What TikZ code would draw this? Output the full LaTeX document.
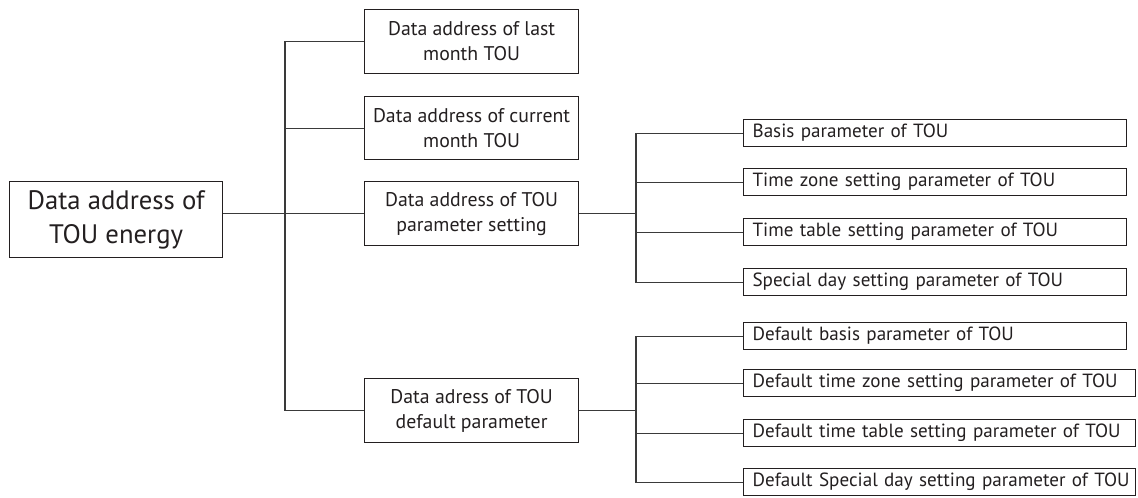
\documentclass[tikz,border=0pt]{standalone}
\usepackage{fontspec}
\setmainfont{PT Sans}
\definecolor{ink}{HTML}{231F20}
\definecolor{wire}{HTML}{3A3A3A}
\begin{document}
\begin{tikzpicture}[x=1pt,y=-1pt,
  box/.style={draw=ink,line width=1.2pt,rectangle,anchor=north west,inner sep=0pt,text=ink},
  rootbox/.style={box,minimum width=213pt,minimum height=76pt,align=center,font=\fontsize{26.7}{34}\selectfont},
  midbox/.style={box,minimum width=214pt,minimum height=64pt,align=center,font=\fontsize{19.8}{25}\selectfont},
  leafbox/.style={box,minimum height=27pt,inner xsep=0pt,text width=#1,align=left,
    font=\fontsize{19.1}{21}\selectfont,execute at begin node={\hspace*{9pt}}},
  wireline/.style={draw=wire,line width=1.1pt}]
\useasboundingbox (0,0) rectangle (1138,498);
\node[rootbox] (root) at (9,181) {Data address of\\TOU energy};
\node[midbox] (b1) at (364,9) {Data address of last\\month TOU};
\node[midbox,minimum height=63pt] (b2) at (364,96) {Data address of current\\month TOU};
\node[midbox] (b3) at (364,181) {Data address of TOU\\parameter setting};
\node[midbox] (b4) at (364,378) {Data adress of TOU\\default parameter};
\node[leafbox=383pt] (pa) at (743,119) {Basis parameter of TOU};
\node[leafbox=383pt] (pb) at (743,168) {Time zone setting parameter of TOU};
\node[leafbox=383pt] (pc) at (743,218) {Time table setting parameter of TOU};
\node[leafbox=383pt] (pd) at (743,268) {Special day setting parameter of TOU};
\node[leafbox=383pt] (pe) at (743,322) {Default basis parameter of TOU};
\node[leafbox=392pt] (pf) at (743,369) {Default time zone setting parameter of TOU};
\node[leafbox=392pt] (pg) at (743,419) {Default time table setting parameter of TOU};
\node[leafbox=392pt] (ph) at (743,468) {Default Special day setting parameter of TOU};
\coordinate (tr) at (285,0);
\coordinate (s1) at (636,0);
\draw[wireline] (root.east |- b3.west) -- (b3.west);
\draw[wireline] (b1.west) -- (b1.west -| tr) -- (b4.west -| tr) -- (b4.west);
\draw[wireline] (b2.west) -- (b2.west -| tr);
\draw[wireline] (b3.east) -- (b3.east -| s1);
\draw[wireline] (pa.west) -- (pa.west -| s1) -- (pd.west -| s1) -- (pd.west);
\draw[wireline] (pb.west) -- (pb.west -| s1);
\draw[wireline] (pc.west) -- (pc.west -| s1);
\draw[wireline] (b4.east) -- (b4.east -| s1);
\draw[wireline] (pe.west) -- (pe.west -| s1) -- (ph.west -| s1) -- (ph.west);
\draw[wireline] (pf.west) -- (pf.west -| s1);
\draw[wireline] (pg.west) -- (pg.west -| s1);
\end{tikzpicture}
\end{document}
